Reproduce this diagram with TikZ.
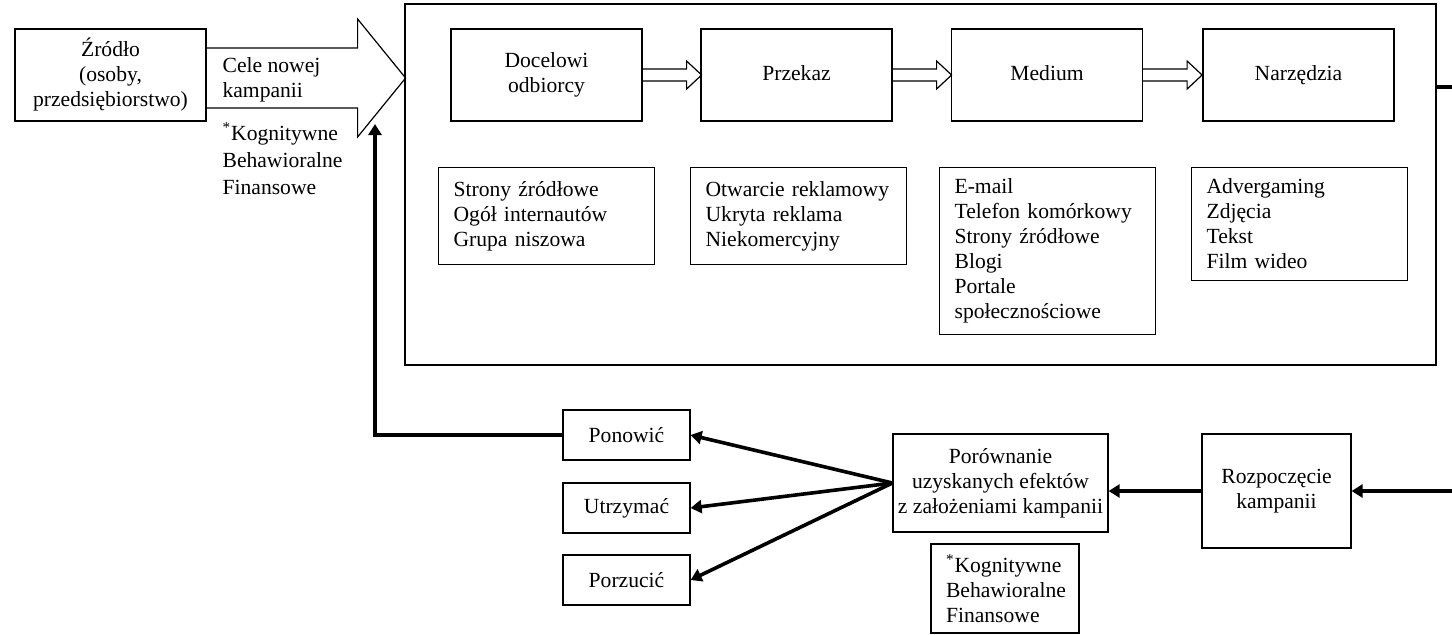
\documentclass[tikz,border=0pt]{standalone}
\usepackage{fontspec}
\setmainfont{Liberation Serif}
\usetikzlibrary{arrows.meta,calc}

\begin{document}
\begin{tikzpicture}
  [x=0.5pt,y=-0.5pt,line width=0.6pt,
   every node/.style={font=\fontsize{10.8}{12.5}\selectfont,inner sep=0pt},
   box/.style={draw,align=center,minimum width=95.5pt,minimum height=46pt},
   lst/.style={draw,anchor=north west,align=left,inner xsep=7.5pt,text width=93pt},
   res/.style={draw,minimum width=63.5pt,minimum height=25pt},
   thk/.style={line width=1.8pt,-{Triangle[length=5.5pt,width=6.5pt]}}]
  \useasboundingbox (0,0) rectangle (1452,634);
  \node[draw,minimum width=515.5pt,minimum height=180.5pt] (fr) at (920.5,184.5) {};
  \node[box] (src) at (110.5,75) {Źródło\\(osoby,\\przedsiębiorstwo)};
  \node[box] (doc) at (546.5,75) {Docelowi\\odbiorcy};
  \node[box] (prz) at (796.5,75) {\strut Przekaz};
  \node[box] (med) at (1047,75) {\strut Medium};
  \node[box] (nar) at (1298.5,75) {\strut Narzędzia};
  \node[lst,minimum height=48.5pt] (odb) at (438,167) {Strony źródłowe\\Ogół internautów\\Grupa niszowa};
  \node[lst,minimum height=48.5pt] (rek) at (690,167) {Otwarcie reklamowy\\Ukryta reklama\\Niekomercyjny};
  \node[lst,minimum height=83.5pt] (kan) at (939,167) {E-mail\\Telefon komórkowy\\Strony źródłowe\\Blogi\\Portale\\społecznościowe};
  \node[lst,minimum height=56.5pt] (nzl) at (1191,167) {Advergaming\\Zdjęcia\\Tekst\\Film wideo};
  \node[anchor=west,align=left] (cel) at (222,79.5) {Cele nowej\\kampanii};
  \node[anchor=west,align=left,font=\fontsize{10.8}{13.5}\selectfont] (kog) at (222,159) {\textsuperscript{*}Kognitywne\\Behawioralne\\Finansowe};
  \node[res] (pon) at (626.5,435) {Ponowić};
  \node[res] (utr) at (626.5,508) {Utrzymać};
  \node[res] (porz) at (626.5,580) {Porzucić};
  \node[draw,align=center,minimum width=107.5pt,minimum height=49pt] (cmp) at (1000.5,483) {Porównanie\\uzyskanych efektów\\z założeniami kampanii};
  \node[draw,align=center,minimum width=74.5pt,minimum height=57pt] (roz) at (1276.5,491) {Rozpoczęcie\\kampanii};
  \node[draw,align=left,inner xsep=7.5pt,text width=59pt,minimum height=44.5pt] (kpi) at (1005,588.5) {\textsuperscript{*}Kognitywne\\Behawioralne\\Finansowe};
  \coordinate (tip) at (375,124);
  \coordinate (outA) at (1452,87);
  \coordinate (outB) at (1452,491);
  \draw ($(src.east)+(0,-27)$) -- ++(151,0) -- ++(0,-29) -- ++(48,59) -- ++(-48,59) -- ++(0,-29) -- ++(-151,0);
  \foreach \from in {doc,prz,med}
    \draw ($(\from.east)+(0,-6)$) -- ++(44,0) -- ++(0,-8) -- ++(15,14) -- ++(-15,14) -- ++(0,-8) -- ++(-44,0);
  \draw[line width=1.8pt] (outA -| fr.east) -- (outA);
  \draw[thk] (outB) -- (roz.east);
  \draw[thk] (roz.west) -- (roz.west -| cmp.east);
  \foreach \to in {pon,utr,porz}
    \draw[thk] (cmp.west) -- (\to.east);
  \draw[thk] (pon.west) -| (tip);
\end{tikzpicture}
\end{document}
